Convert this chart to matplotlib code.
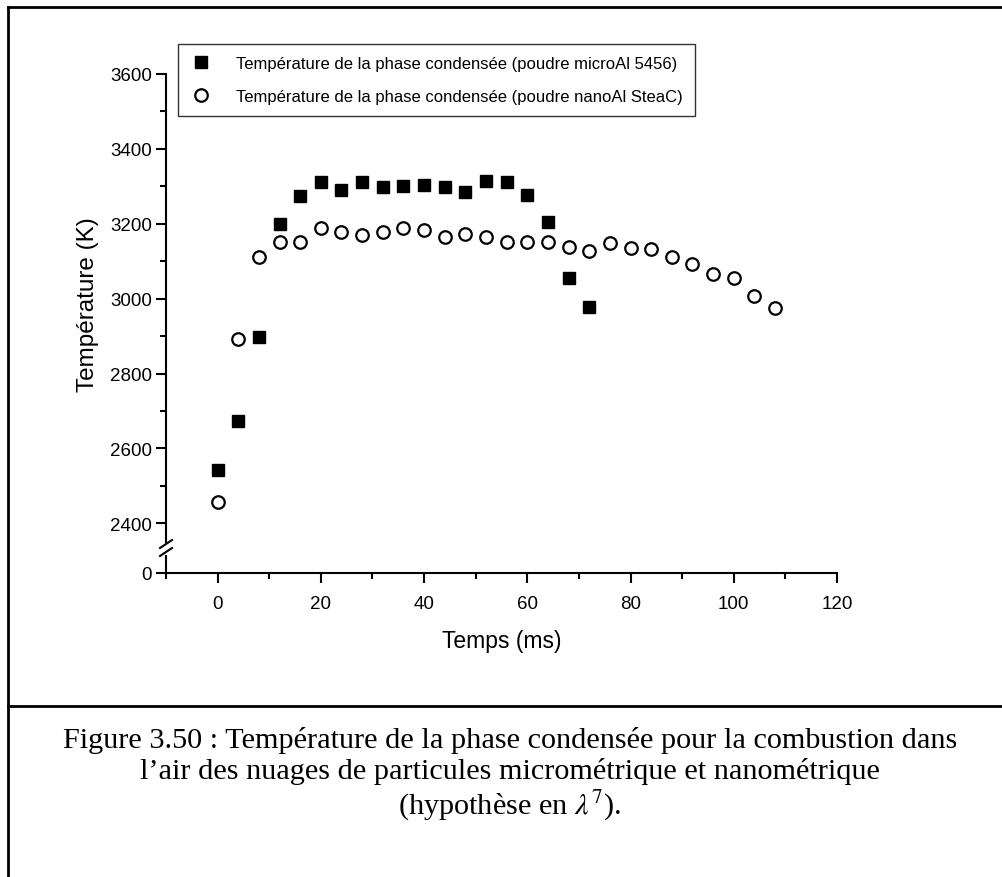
import matplotlib
matplotlib.use("Agg")
import matplotlib.pyplot as plt
from matplotlib.lines import Line2D
from matplotlib.ticker import MultipleLocator

plt.rcParams['font.family'] = ['Liberation Sans', 'DejaVu Sans']
plt.rcParams['mathtext.fontset'] = 'stix'

# ---- data ----
t_micro = [0, 4, 8, 12, 16, 20, 24, 28, 32, 36, 40, 44, 48, 52, 56, 60, 64, 68, 72]
T_micro = [2543, 2674, 2897, 3200, 3274, 3312, 3289, 3312, 3298, 3301, 3304,
           3297, 3285, 3313, 3312, 3276, 3205, 3054, 2977]

t_nano = [0, 4, 8, 12, 16, 20, 24, 28, 32, 36, 40, 44, 48, 52, 56, 60, 64, 68,
          72, 76, 80, 84, 88, 92, 96, 100, 104, 108]
T_nano = [2456, 2891, 3112, 3152, 3152, 3189, 3179, 3170, 3177, 3189, 3182,
          3164, 3173, 3164, 3152, 3150, 3150, 3139, 3127, 3148, 3136, 3132,
          3111, 3092, 3067, 3056, 3006, 2976]

label_micro = "Température de la phase condensée (poudre microAl 5456)"
label_nano = "Température de la phase condensée (poudre nanoAl SteaC)"
xlabel = "Temps (ms)"
ylabel = "Température (K)"
xticks = [0, 20, 40, 60, 80, 100, 120]
yticks = [2400, 2600, 2800, 3000, 3200, 3400, 3600]
caption = ("Figure 3.50 : Température de la phase condensée pour la combustion dans\n"
           "l\u2019air des nuages de particules micrométrique et nanométrique\n"
           "(hypothèse en $\\lambda^7$).")

W, H = 1003, 878
fig = plt.figure(figsize=(W / 100, H / 100), dpi=100)

def fx(px):
    return px / W

def fy(py):
    return 1 - py / H

# frame lines
lw_frame = 2.0
fig.add_artist(Line2D([fx(8), fx(1003)], [fy(8), fy(8)], color='black', lw=lw_frame, transform=fig.transFigure))
fig.add_artist(Line2D([fx(8), fx(8)], [fy(8), fy(878)], color='black', lw=lw_frame, transform=fig.transFigure))
fig.add_artist(Line2D([fx(8), fx(1003)], [fy(707), fy(707)], color='black', lw=lw_frame, transform=fig.transFigure))

# axes geometry
left_px, right_px = 166, 837
top_px, top_bot_px = 75, 543
bot_top_px, bot_bot_px = 557, 574

ax = fig.add_axes([fx(left_px), fy(top_bot_px), fx(right_px - left_px), (top_bot_px - top_px) / H])
axb = fig.add_axes([fx(left_px), fy(bot_bot_px), fx(right_px - left_px), (bot_bot_px - bot_top_px) / H], sharex=ax)

ms = 9
ax.plot(t_micro, T_micro, linestyle='none', marker='s', ms=ms, color='black',
        markeredgecolor='black', label=label_micro)
ax.plot(t_nano, T_nano, linestyle='none', marker='o', ms=ms, markerfacecolor='white',
        markeredgecolor='black', markeredgewidth=1.6, label=label_nano)

ax.set_xlim(-10, 120)
ax.set_ylim(2350, 3600)
ax.set_yticks(yticks)
ax.yaxis.set_minor_locator(MultipleLocator(100))
for s in ['top', 'right', 'bottom']:
    ax.spines[s].set_visible(False)
ax.spines['left'].set_linewidth(1.5)
ax.tick_params(axis='x', which='both', bottom=False, labelbottom=False)
ax.tick_params(axis='y', which='major', direction='out', length=7, width=1.5, labelsize=13.5, pad=3)
ax.tick_params(axis='y', which='minor', direction='out', length=4, width=1.5)
ax.set_ylabel(ylabel, fontsize=17.5)
ax.yaxis.set_label_coords(-0.100, 0.51)

axb.set_ylim(0, 1)
axb.set_yticks([0])
axb.set_xticks(xticks)
axb.xaxis.set_minor_locator(MultipleLocator(10))
for s in ['top', 'right']:
    axb.spines[s].set_visible(False)
axb.spines['left'].set_linewidth(1.5)
axb.spines['bottom'].set_linewidth(1.5)
axb.tick_params(axis='y', which='major', direction='out', length=7, width=1.5, labelsize=13.5, pad=3)
axb.tick_params(axis='x', which='major', direction='out', length=7, width=1.5, labelsize=13.5, pad=9)
axb.tick_params(axis='x', which='minor', direction='out', length=4, width=1.5)
axb.set_xlabel(xlabel, fontsize=16.5, labelpad=12)
axb.patch.set_alpha(0)

# break marks on the y axis
for ypx in (545, 553):
    fig.add_artist(Line2D([fx(left_px - 6), fx(left_px + 6)], [fy(ypx + 4), fy(ypx - 4)],
                          color='black', lw=1.5, transform=fig.transFigure))

leg = ax.legend(loc='upper left', bbox_to_anchor=(0.018, 1.065), frameon=True, fancybox=False,
                edgecolor='black', fontsize=12.0, handletextpad=1.4, borderpad=0.75,
                labelspacing=1.05, handlelength=1.3, borderaxespad=0)
leg.get_frame().set_linewidth(1.0)

fig.text(fx(510), fy(775), caption, ha='center', va='center', fontsize=21.8,
         family=['Liberation Serif', 'DejaVu Serif'], linespacing=1.18)

fig.savefig("out.png", dpi=100)
